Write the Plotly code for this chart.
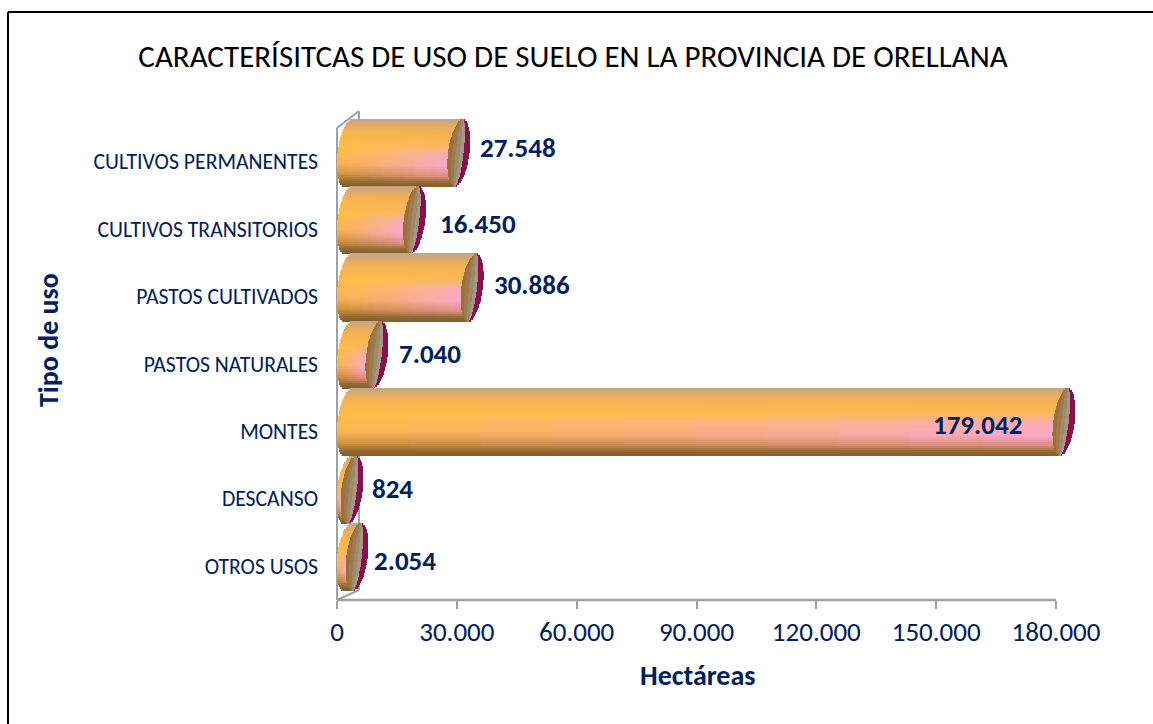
import plotly.graph_objects as go
import numpy as np

categories = ["OTROS USOS", "DESCANSO", "MONTES", "PASTOS NATURALES",
              "PASTOS CULTIVADOS", "CULTIVOS TRANSITORIOS", "CULTIVOS PERMANENTES"]
values = [2054, 824, 179042, 7040, 30886, 16450, 27548]
labels = ["2.054", "824", "179.042", "7.040", "30.886", "16.450", "27.548"]
x_ticks = [0, 30000, 60000, 90000, 120000, 150000, 180000]
x_tick_labels = ["0", "30.000", "60.000", "90.000", "120.000", "150.000", "180.000"]
title = "CARACTERÍSITCAS DE USO DE SUELO EN LA PROVINCIA DE ORELLANA"
x_title = "Hectáreas"
y_title = "Tipo de uso"

W, H = 1153, 724
X0_PX, X180_PX, Y_BOTTOM_PX, Y_TOP_PX = 337, 1056, 600, 128   # axis frame in pixels
PX = 180000 / (X180_PX - X0_PX)      # data units per pixel
CAT_PX = (Y_BOTTOM_PX - Y_TOP_PX) / 7
# the plot area is a little larger than the visible axes, so the 3D ends are not clipped
X_EXTRA, Y_EXTRA = 28 * PX, 16 / CAT_PX
ML, MB = X0_PX, H - Y_BOTTOM_PX
MR = W - X180_PX - 28
MT = Y_TOP_PX - 16
PW, PH = W - ML - MR, H - MT - MB
NAVY = "#002060"
FONT = "Carlito, Calibri, Lato, 'Open Sans', sans-serif"

def fx(x):
    return (x - ML) / PW

def fy(y):
    return (H - MB - y) / PH

# colour ramp across the cylinder, from bottom (0) to top (1)
stops_left = [(0.0, (128, 94, 44)), (0.06, (140, 102, 48)), (0.2, (212, 150, 60)), (0.36, (250, 182, 78)),
              (0.6, (254, 190, 72)), (0.82, (246, 178, 82)), (0.94, (214, 168, 112)), (1.0, (192, 166, 140))]
stops_right = [(0.0, (128, 94, 44)), (0.06, (140, 102, 48)), (0.15, (220, 140, 124)), (0.3, (250, 168, 196)),
               (0.48, (250, 172, 180)), (0.64, (252, 184, 84)), (0.82, (246, 178, 82)), (0.94, (214, 168, 112)), (1.0, (192, 166, 140))]

def ramp(stops, u):
    xs = [s[0] for s in stops]
    return np.array([np.interp(u, xs, [s[1][k] for s in stops]) for k in range(3)])

def rgb(c):
    return "rgb(%d,%d,%d)" % tuple(int(round(v)) for v in c)

N_BANDS = 34
DEPTH_X = 11.5 * PX    # 3D shift of the cylinder
RX = 11.0 * PX         # horizontal radius of the end ellipse
TILT = 4.0 * PX
BAR_PX = 68.0
BAND = BAR_PX / CAT_PX / N_BANDS
SHIFT_Y = 9 / CAT_PX   # bars sit above their category centre
SEGS = [1.0, 0.9, 0.8, 0.7, 0.6, 0.5, 0.4, 0.3, 0.2, 0.1]
CAP_FACE = [(0.46, (165, 150, 136)), (0.12, (160, 136, 106)), (-0.25, (156, 124, 76)), (-0.6, (152, 114, 58))]

v = np.array(values, float)
traces = []
for i in range(N_BANDS):
    u0 = (i + 0.5) / N_BANDS
    t = 2 * u0 - 1
    s = np.sqrt(max(0, 1 - t * t))
    offset = -0.5 * BAR_PX / CAT_PX + i * BAND + SHIFT_Y
    centre0 = DEPTH_X + TILT * t
    left = centre0 - RX * s
    right_c = v + centre0
    kw = dict(y=categories, orientation="h", width=BAND * 1.08, offset=offset,
              hoverinfo="skip", showlegend=False, marker_line_width=0)
    # back of the end cap (crimson crescent)
    traces.append(go.Bar(x=2 * RX * s * np.ones(7), base=right_c - RX * s,
                         marker_color="#8a0f4e", **kw))
    # cap face, horizontal gradient from brown to grey
    for f, col in CAP_FACE:
        traces.append(go.Bar(x=(1 + f) * RX * s * np.ones(7), base=right_c - RX * s,
                             marker_color=rgb(col), **kw))
    # body, drawn longest to shortest so colours shift along the length
    for frac in SEGS:
        mix = frac ** 1.25
        col = ramp(stops_left, u0) * (1 - mix) + ramp(stops_right, u0) * mix
        traces.append(go.Bar(x=v * frac + 0.5 * PX, base=np.full(7, left),
                             marker_color=rgb(col), **kw))

fig = go.Figure(traces)

label_dx = [60, 52, -75, 65, 72, 75, 71]
label_dy = [6, 10, 7, 11, 12, 6, 14]
for c, val, lab, dx, dy in zip(categories, values, labels, label_dx, label_dy):
    fig.add_annotation(x=val, y=c, text="<b>%s</b>" % lab, showarrow=False, xanchor="center", yanchor="middle",
                       xshift=dx, yshift=dy, font=dict(family=FONT, size=27, color=NAVY))
fig.add_annotation(xref="paper", yref="paper", x=fx(697), y=fy(675), text="<b>%s</b>" % x_title, showarrow=False,
                   xanchor="center", yanchor="middle", font=dict(family=FONT, size=28, color=NAVY))
fig.add_annotation(xref="paper", yref="paper", x=fx(48), y=fy(340), text="<b>%s</b>" % y_title, showarrow=False,
                   textangle=-90, xanchor="center", yanchor="middle", font=dict(family=FONT, size=28, color=NAVY))

G = "#a0a0a0"
def seg(x0, y0, x1, y1, color=G, width=2):
    return dict(type="line", xref="paper", yref="paper", x0=fx(x0), y0=fy(y0), x1=fx(x1), y1=fy(y1),
                line=dict(color=color, width=width), layer="below")

shapes = [
    # outer frame (left and top edges, the others run off the picture)
    seg(8, H, 8, 12, "black", 2),
    seg(8, 12, W, 12, "black", 2),
    # axes
    seg(X0_PX, Y_BOTTOM_PX, X180_PX, Y_BOTTOM_PX, G, 2.5),
    seg(X0_PX, Y_BOTTOM_PX, X0_PX, Y_TOP_PX, G, 2),
    # 3D wall edges
    seg(X0_PX, Y_TOP_PX, X0_PX + 22, Y_TOP_PX - 17),
    seg(X0_PX + 22, Y_TOP_PX - 17, X0_PX + 22, Y_BOTTOM_PX - 10),
    seg(X0_PX, Y_BOTTOM_PX, X0_PX + 22, Y_BOTTOM_PX - 10),
]

fig.update_layout(
    width=W, height=H, barmode="overlay", bargap=0,
    margin=dict(l=ML, r=MR, t=MT, b=MB, autoexpand=False),
    paper_bgcolor="white", plot_bgcolor="white", showlegend=False,
    font=dict(family=FONT, color=NAVY),
    title=dict(text=title, x=573 / W, xanchor="center", y=1 - 56 / H, yanchor="middle",
               font=dict(family=FONT, size=31, color="black")),
    shapes=shapes,
    xaxis=dict(range=[0, 180000 + X_EXTRA], tickvals=x_ticks, ticktext=x_tick_labels, ticks="outside", ticklen=8,
               tickcolor=G, tickwidth=2, showline=False, showgrid=False, zeroline=False,
               tickfont=dict(family=FONT, size=27, color=NAVY)),
    yaxis=dict(type="category", categoryorder="array", categoryarray=categories, range=[-0.5, 6.5 + Y_EXTRA],
               showline=False, showgrid=False, zeroline=False,
               ticks="", ticklabelstandoff=18,
               tickfont=dict(family=FONT, size=21.7, color=NAVY)),
)
fig.write_html("out.html", post_script="document.body.style.margin='0';",
               config=dict(displayModeBar=False))
